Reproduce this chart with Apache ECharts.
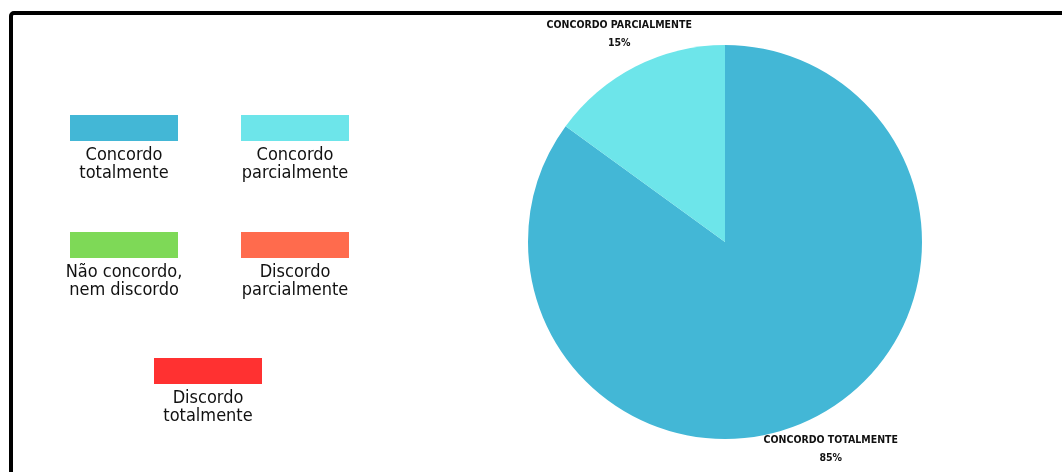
<!DOCTYPE html>
<html>
<head>
<meta charset="utf-8">
<script src="https://cdn.jsdelivr.net/npm/echarts@6/dist/echarts.min.js"></script>
<style>
html,body{margin:0;padding:0;background:#fff;}
#chart{width:1062px;height:472px;}
</style>
</head>
<body>
<div id="chart"></div>
<script>
const categories = ['Concordo totalmente', 'Concordo parcialmente', 'Não concordo, nem discordo', 'Discordo parcialmente', 'Discordo totalmente'];
const legendLabels = ['Concordo\ntotalmente', 'Concordo\nparcialmente', 'Não concordo,\nnem discordo', 'Discordo\nparcialmente', 'Discordo\ntotalmente'];
const values = [85, 15, 0, 0, 0];
const colors = ['#43B7D6', '#6DE5EA', '#7ED957', '#FF6B4D', '#FF3131'];

const legendSlots = [
  {cx: 124, top: 115}, {cx: 295, top: 115},
  {cx: 124, top: 232}, {cx: 295, top: 232},
  {cx: 208, top: 358}
];
const textFont = '"DejaVu Sans Condensed", "Liberation Sans Narrow", sans-serif';

const graphics = [{
  type: 'rect',
  shape: {x: 11, y: 13, width: 1100, height: 520, r: 3},
  style: {fill: 'none', stroke: '#000', lineWidth: 4},
  silent: true
}];
categories.forEach(function (c, i) {
  const s = legendSlots[i];
  graphics.push({
    type: 'rect',
    shape: {x: s.cx - 54, y: s.top, width: 108, height: 26},
    style: {fill: colors[i]}
  });
  graphics.push({
    type: 'text',
    x: s.cx, y: s.top + 31,
    style: {
      text: legendLabels[i],
      font: '18px ' + textFont,
      lineHeight: 18,
      fill: '#111',
      textAlign: 'center',
      textVerticalAlign: 'top'
    }
  });
});

const chart = echarts.init(document.getElementById('chart'));
chart.setOption({
  backgroundColor: '#fff',
  animation: false,
  graphic: graphics,
  series: [{
    type: 'pie',
    center: [725, 242],
    radius: 197,
    startAngle: 90,
    clockwise: true,
    avoidLabelOverlap: false,
    data: categories.map(function (c, i) {
      return {name: c, value: values[i], itemStyle: {color: colors[i]}};
    }),
    label: {
      show: true,
      position: 'outside',
      distanceToLabelLine: 0,
      formatter: function (p) { return p.value > 0 ? p.name.toUpperCase() + '\n' + Math.round(p.percent) + '%' : ''; },
      fontFamily: textFont,
      fontWeight: 'bold',
      fontSize: 10.5,
      lineHeight: 18,
      color: '#111',
      align: 'center'
    },
    labelLine: {show: false, length: 36, length2: 0},
    labelLayout: {align: 'center'},
    itemStyle: {borderWidth: 0}
  }]
});
</script>
</body>
</html>
